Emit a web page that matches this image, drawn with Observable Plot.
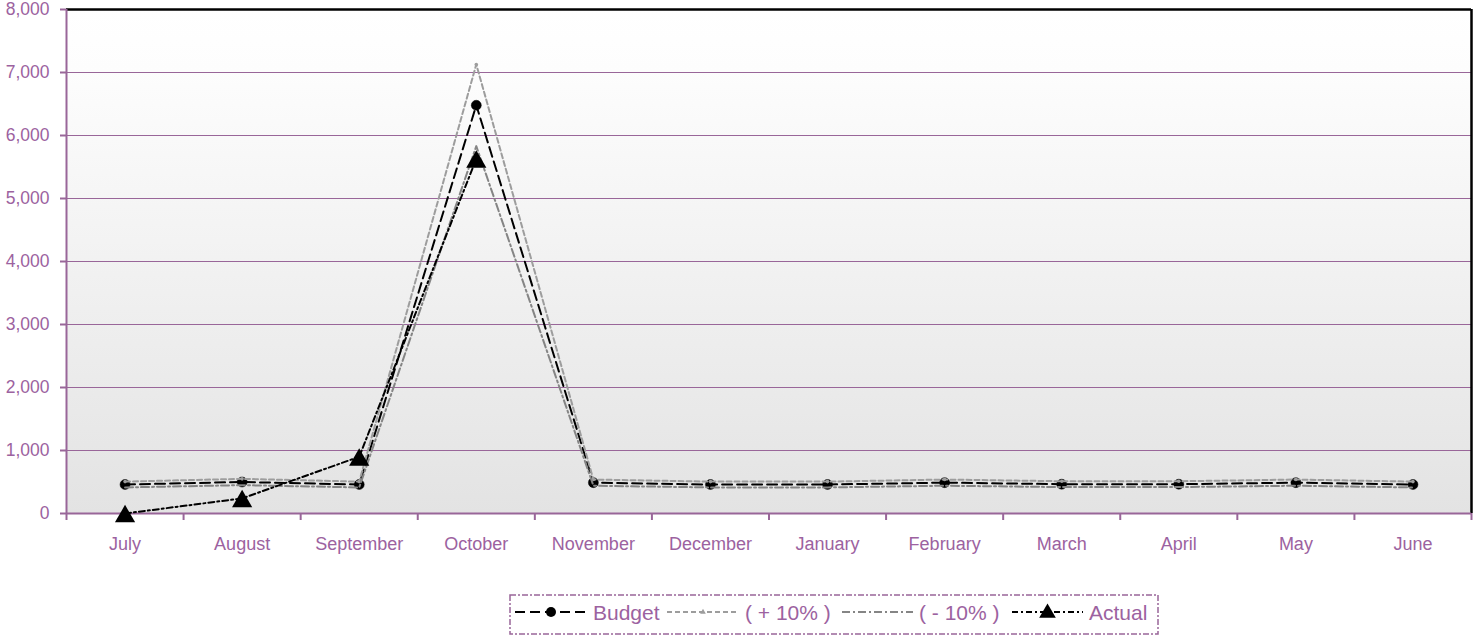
<!DOCTYPE html>
<html>
<head>
<meta charset="utf-8">
<script src="https://cdn.jsdelivr.net/npm/d3@7"></script>
<script src="https://cdn.jsdelivr.net/npm/@observablehq/plot@0.6"></script>
<style>
  html, body { margin: 0; padding: 0; background: #ffffff; }
  #chart { position: relative; width: 1474px; height: 637px; }
  #chart svg { display: block; }
</style>
</head>
<body>
<div id="chart"></div>
<script>
// Fiscal-year months (July to June)
const months = ["July", "August", "September", "October", "November", "December",
                "January", "February", "March", "April", "May", "June"];

// Monthly budget and the ±10% tolerance band
const budget  = [460, 500, 460, 6480, 490, 460, 460, 490, 465, 465, 490, 460];
const plus10  = [506, 550, 506, 7128, 539, 506, 506, 539, 512, 512, 539, 506];
const minus10 = [414, 450, 414, 5832, 441, 414, 414, 441, 419, 419, 441, 414];

// Actual spend recorded so far (July to October)
const actual  = [0, 240, 900, 5630];

// Y-axis tick values
const yTicks = [0, 1000, 2000, 3000, 4000, 5000, 6000, 7000, 8000];

const purple = "#996699";
const textPurple = "#9c62a0";
const font = "'Liberation Sans', Arial, sans-serif";

// Each month sits in the middle of its slot on a 0..12 axis
const rows = (values) => values.map((v, i) => ({pos: i + 0.5, value: v, month: months[i]}));

const chart = Plot.plot({
  width: 1474,
  height: 590,
  marginLeft: 66,
  marginRight: 3,
  marginTop: 9,
  marginBottom: 77,
  style: {fontFamily: font, background: "transparent"},
  x: {domain: [0, 12]},
  y: {domain: [0, 8000]},
  marks: [
    Plot.frame({fill: "url(#plotBg)", stroke: "none"}),
    Plot.gridY(yTicks.slice(1, -1), {stroke: purple, strokeOpacity: 1, strokeWidth: 1}),
    Plot.ruleY([yTicks[yTicks.length - 1]], {stroke: "#000", strokeWidth: 2.5}),
    Plot.ruleX([months.length], {stroke: "#000", strokeWidth: 2.5}),
    Plot.axisY({
      ticks: yTicks, tickFormat: d3.format(","), tickSize: 6, tickPadding: 11,
      fontSize: 17.5, color: textPurple, stroke: purple, strokeWidth: 2, label: null
    }),
    Plot.axisX({
      ticks: d3.range(0, months.length + 1), tickSize: 7, tickFormat: () => "",
      stroke: purple, strokeWidth: 2, label: null
    }),
    Plot.axisX({
      ticks: months.map((m, i) => i + 0.5), tickSize: 0, tickPadding: 24,
      tickFormat: (d) => months[Math.floor(d)], fontSize: 18, color: textPurple, label: null
    }),
    Plot.ruleX([0], {stroke: purple, strokeWidth: 2}),
    Plot.ruleY([0], {stroke: purple, strokeWidth: 2}),

    // Budget
    Plot.line(rows(budget), {x: "pos", y: "value", stroke: "#000", strokeWidth: 2, strokeDasharray: "10,5"}),
    Plot.dot(rows(budget), {x: "pos", y: "value", r: 5, fill: "#000", stroke: "#000", strokeWidth: 0.5}),

    // +10%
    Plot.line(rows(plus10), {x: "pos", y: "value", stroke: "#9d9d9d", strokeWidth: 2, strokeDasharray: "5,3"}),
    Plot.dot(rows(plus10), {x: "pos", y: "value", r: 1.8, fill: "#9d9d9d", stroke: "none"}),

    // -10%
    Plot.line(rows(minus10), {x: "pos", y: "value", stroke: "#858585", strokeWidth: 2, strokeDasharray: "8,3,2,3"}),

    // Actual
    Plot.line(rows(actual), {x: "pos", y: "value", stroke: "#000", strokeWidth: 2, strokeDasharray: "6,3,2,3"}),
    Plot.dot(rows(actual), {x: "pos", y: "value", symbol: "triangle", r: 7.5, dy: 3, fill: "#000", stroke: "none"})
  ]
});

// Vertical gradient used as the plot-area background
d3.select(chart).insert("defs", ":first-child").html(`
  <linearGradient id="plotBg" x1="0" y1="0" x2="0" y2="1">
    <stop offset="0" stop-color="#ffffff"/>
    <stop offset="0.12" stop-color="#fdfdfd"/>
    <stop offset="1" stop-color="#e3e3e3"/>
  </linearGradient>`);

document.getElementById("chart").appendChild(chart);

// Legend below the chart
const legendItems = [
  {name: "Budget",    x0: 515,  x1: 587,  tx: 593,  stroke: "#000",    width: 2, dash: "10,5",    marker: "circle"},
  {name: "( + 10% )", x0: 667,  x1: 739,  tx: 745,  stroke: "#9d9d9d", width: 2, dash: "5,3",     marker: "small"},
  {name: "( - 10% )", x0: 842,  x1: 913,  tx: 919,  stroke: "#858585", width: 2, dash: "8,3,2,3", marker: null},
  {name: "Actual",    x0: 1012, x1: 1083, tx: 1089, stroke: "#000",    width: 2, dash: "6,3,2,3", marker: "triangle"}
];

const legend = d3.select("#chart").append("svg")
  .attr("width", 1474).attr("height", 47)
  .style("font-family", font);

legend.append("rect")
  .attr("x", 510).attr("y", 5).attr("width", 648).attr("height", 39)
  .attr("fill", "none").attr("stroke", purple).attr("stroke-width", 1.5)
  .attr("stroke-dasharray", "6,2,2,2");

const ly = 22;
for (const it of legendItems) {
  legend.append("line")
    .attr("x1", it.x0).attr("x2", it.x1).attr("y1", ly).attr("y2", ly)
    .attr("stroke", it.stroke).attr("stroke-width", it.width)
    .attr("stroke-dasharray", it.dash);
  const mx = (it.x0 + it.x1) / 2;
  if (it.marker === "circle") {
    legend.append("circle").attr("cx", mx).attr("cy", ly).attr("r", 5).attr("fill", "#000");
  } else if (it.marker === "small") {
    legend.append("path").attr("d", d3.symbol(d3.symbolTriangle, 14)()).attr("transform", `translate(${mx},${ly})`).attr("fill", "#9d9d9d");
  } else if (it.marker === "triangle") {
    legend.append("path").attr("d", d3.symbol(d3.symbolTriangle, 120)()).attr("transform", `translate(${mx},${ly + 1})`).attr("fill", "#000");
  }
  legend.append("text")
    .attr("x", it.tx).attr("y", ly + 8)
    .attr("font-size", 21).attr("fill", textPurple)
    .text(it.name);
}
</script>
</body>
</html>
